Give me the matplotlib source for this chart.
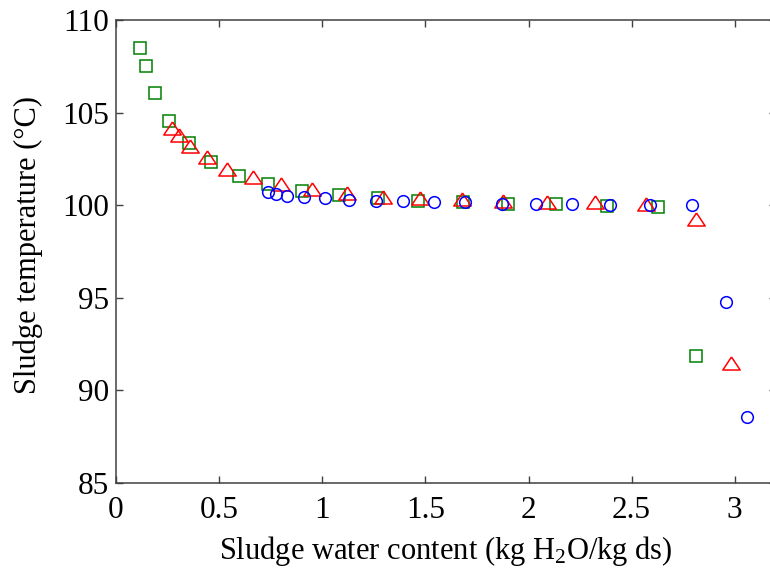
import matplotlib
matplotlib.use('Agg')
import matplotlib.pyplot as plt

plt.rcParams['font.family'] = ['Liberation Serif', 'DejaVu Serif']
plt.rcParams['mathtext.fontset'] = 'custom'
plt.rcParams['mathtext.rm'] = 'Liberation Serif'
plt.rcParams['mathtext.it'] = 'Liberation Serif:italic'

# green squares
sq_x = [0.116, 0.144, 0.190, 0.258, 0.354, 0.461, 0.596, 0.738, 0.900, 1.081,
        1.268, 1.465, 1.683, 1.902, 2.133, 2.379, 2.626, 2.810]
sq_y = [108.5, 107.5, 106.07, 104.56, 103.34, 102.35, 101.59, 101.16, 100.77, 100.53,
        100.37, 100.22, 100.16, 100.06, 100.06, 99.97, 99.92, 91.87]

# red triangles
tr_x = [0.270, 0.304, 0.359, 0.440, 0.540, 0.666, 0.798, 0.949, 1.118,
        1.293, 1.474, 1.676, 1.877, 2.088, 2.322, 2.569, 2.810, 2.984]
tr_y = [104.19, 103.77, 103.21, 102.59, 101.97, 101.54, 101.16, 100.86, 100.64,
        100.46, 100.37, 100.32, 100.24, 100.19, 100.16, 100.06, 99.25, 91.50]

# blue circles
ci_x = [0.738, 0.774, 0.827, 0.913, 1.015, 1.129, 1.260, 1.393, 1.541, 1.692,
        1.873, 2.036, 2.209, 2.395, 2.588, 2.791, 2.960, 3.060]
ci_y = [100.70, 100.60, 100.51, 100.46, 100.37, 100.28, 100.24, 100.23, 100.16, 100.16,
        100.06, 100.06, 100.06, 100.01, 100.01, 100.01, 94.77, 88.55]

xticks = [0, 0.5, 1, 1.5, 2, 2.5, 3]
xtick_labels = ['0', '0.5', '1', '1.5', '2', '2.5', '3']
yticks = [85, 90, 95, 100, 105, 110]

fig = plt.figure(figsize=(7.7, 5.78), dpi=100)
ax = fig.add_axes([116 / 770, 95 / 578, 660 / 770, 463 / 578])

tri = [(0, 0.75), (-1, -0.75), (1, -0.75), (0, 0.75)]
ax.plot(sq_x, sq_y, linestyle='none', marker='s', ms=8.8, mfc='none',
        mec=(0, 0.5, 0), mew=1.1)
ax.plot(tr_x, tr_y, linestyle='none', marker=tri, ms=12.5, mfc='none',
        mec=(1, 0, 0), mew=1.1)
ax.plot(ci_x, ci_y, linestyle='none', marker='o', ms=8.4, mfc='none',
        mec=(0, 0, 1), mew=1.1)

ax.set_xlim(0, 3.2)
ax.set_ylim(85, 110)
ax.set_xticks(xticks)
ax.set_xticklabels(xtick_labels)
ax.set_yticks(yticks)
ax.tick_params(direction='in', length=5, width=1, top=True, right=True,
               labelsize=22.5, color='#404040')
ax.tick_params(axis='x', pad=9)
ax.tick_params(axis='y', pad=5)
for s in ax.spines.values():
    s.set_color('#404040')
    s.set_linewidth(1.1)

ax.set_xlabel('Sludge water content (kg H$_2$O/kg ds)', fontsize=22, labelpad=7)
ax.set_ylabel('Sludge temperature (°C)', fontsize=22)
ax.yaxis.set_label_coords(-0.111, 0.515)

fig.savefig('out.png', dpi=100)
